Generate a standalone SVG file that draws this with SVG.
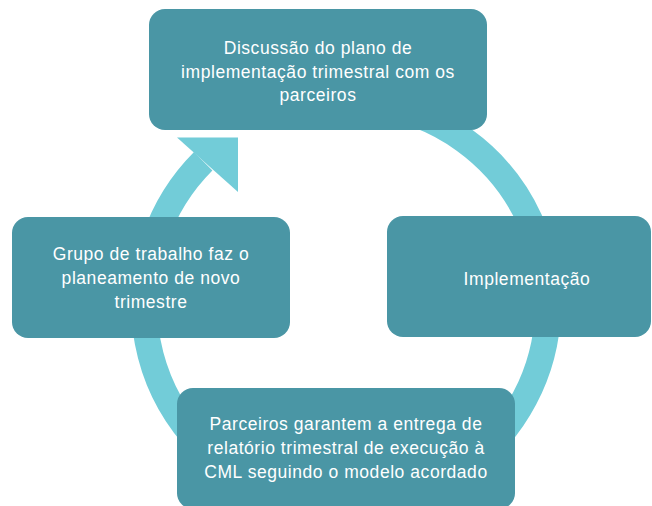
<svg xmlns="http://www.w3.org/2000/svg" width="652" height="506" viewBox="0 0 652 506">
  <style>
    .box { fill: #4A96A5; }
    .ring { fill: none; stroke: #72CCD8; stroke-width: 26; }
    .head { fill: #72CCD8; }
    .lbl { fill: #FFFFFF; font-family: "Liberation Sans", Arial, sans-serif; font-size: 17.5px; letter-spacing: 0.55px; text-anchor: middle; }
  </style>
  <rect width="652" height="506" fill="#FFFFFF"/>
  <g id="connectors">
    <path class="ring" d="M 276.9 114.2 A 202 202 0 1 1 203.2 161.2"/>
    <polygon class="head" points="177,137.5 238,137.5 238,192"/>
  </g>
  <g id="node-discussao">
    <rect class="box" x="149" y="9" width="338" height="121" rx="16"/>
    <text class="lbl" x="318" y="54">Discussão do plano de</text>
    <text class="lbl" x="318" y="77.5">implementação trimestral com os</text>
    <text class="lbl" x="318" y="101">parceiros</text>
  </g>
  <g id="node-implementacao">
    <rect class="box" x="387" y="216" width="264" height="121" rx="16"/>
    <text class="lbl" x="527" y="285">Implementação</text>
  </g>
  <g id="node-parceiros">
    <rect class="box" x="177" y="388" width="338" height="121" rx="16"/>
    <text class="lbl" x="346" y="430">Parceiros garantem a entrega de</text>
    <text class="lbl" x="346" y="454">relatório trimestral de execução à</text>
    <text class="lbl" x="346" y="478">CML seguindo o modelo acordado</text>
  </g>
  <g id="node-grupo">
    <rect class="box" x="12" y="217" width="278" height="121" rx="16"/>
    <text class="lbl" x="151" y="260">Grupo de trabalho faz o</text>
    <text class="lbl" x="151" y="284">planeamento de novo</text>
    <text class="lbl" x="151" y="308">trimestre</text>
  </g>
</svg>
